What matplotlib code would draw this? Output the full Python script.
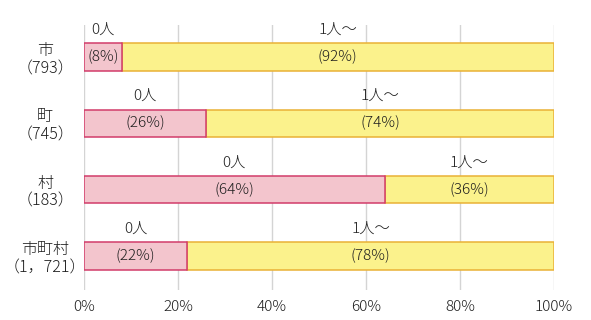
import matplotlib
matplotlib.use("Agg")
import matplotlib.pyplot as plt

plt.rcParams['font.family'] = ['Noto Sans CJK JP', 'DejaVu Sans']

categories = ["市\n（793）", "町\n（745）", "村\n（183）", "市町村\n（1，721）"]
zero_pct = [8, 26, 64, 22]
one_pct = [92, 74, 36, 78]
tick_labels = ["0%", "20%", "40%", "60%", "80%", "100%"]

fig = plt.figure(figsize=(5.91, 3.2), dpi=100)
ax = fig.add_axes([84 / 591, 1 - 290 / 320, 470 / 591, 265 / 320])

ypos = list(range(len(categories)))
h = 0.415
pink, pink_edge = "#f3c5cd", "#d23c6a"
yellow, yellow_edge = "#fbf28c", "#e9b236"
txt = "#1e1e1e"
fs = 11

for y, z, o in zip(ypos, zero_pct, one_pct):
    ax.barh(y, o, left=z, height=h, color=yellow, edgecolor=yellow_edge, linewidth=1.1, zorder=3)
    ax.barh(y, z, height=h, color=pink, edgecolor=pink_edge, linewidth=1.1, zorder=3)
    ax.text(z / 2, y - h / 2 - 0.2, "0人", ha="center", va="center", fontsize=fs, color=txt, fontweight="light")
    ax.text(z / 2, y, f"({z}%)", ha="center", va="center", fontsize=fs, color=txt, zorder=4, fontweight="light")
    ax.text(z + o / 2, y - h / 2 - 0.2, "1人～", ha="center", va="center", fontsize=fs, color=txt, fontweight="light")
    ax.text(z + o / 2, y, f"({o}%)", ha="center", va="center", fontsize=fs, color=txt, zorder=4, fontweight="light")

ax.set_xlim(0, 100)
ax.set_ylim(3.51, -0.48)
ax.set_xticks([0, 20, 40, 60, 80, 100])
ax.set_xticklabels(tick_labels, fontsize=fs, color=txt, fontweight="light")
ax.set_yticks(ypos)
ax.set_yticklabels(categories, fontsize=11.5, color=txt, ha="center", linespacing=1.1, fontweight="light")
ax.tick_params(axis="y", length=0, pad=28)
ax.tick_params(axis="x", length=0, pad=7)
ax.grid(axis="x", color="#d4d4d4", linewidth=1, zorder=0)
for s in ax.spines.values():
    s.set_visible(False)

fig.savefig("out.png", dpi=100)
